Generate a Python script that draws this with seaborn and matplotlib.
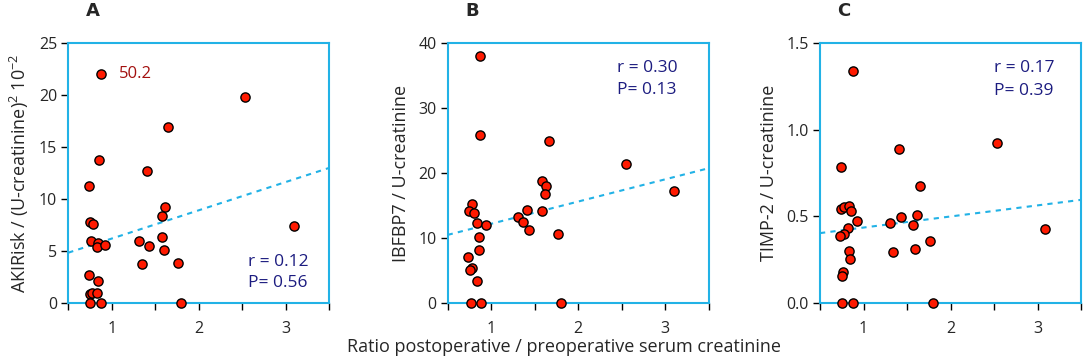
"""Three-panel scatter: urinary biomarkers vs. serum creatinine ratio."""
import matplotlib

matplotlib.use("Agg")
import matplotlib.pyplot as plt
import numpy as np
import pandas as pd
import seaborn as sns
from matplotlib.ticker import MultipleLocator

# ── data ────────────────────────────────────────────────────────────
ratio_a = [0.873, 2.535, 1.646, 0.858, 1.40, 0.735, 0.750, 0.789, 1.612, 1.573,
           3.092, 0.766, 0.843, 0.831, 0.923, 1.312, 1.431, 1.573, 1.600, 1.347,
           1.765, 0.735, 0.843, 0.754, 0.777, 0.835, 0.754, 0.873, 1.796]
akirisk = [22.0, 19.8, 16.9, 13.75, 12.75, 11.28, 7.8, 7.6, 9.2, 8.4,
           7.37, 6.02, 5.77, 5.41, 5.63, 6.02, 5.51, 6.4, 5.13, 3.78,
           3.88, 2.75, 2.14, 0.92, 0.99, 0.99, 0.0, 0.0, 0.0]

ratio_b = [0.874, 0.874, 1.660, 2.554, 3.105, 0.781, 0.746, 0.800, 0.842, 0.935,
           0.858, 0.858, 0.735, 0.777, 0.762, 0.842, 0.766, 0.885, 1.806, 1.313,
           1.360, 1.430, 1.413, 1.580, 1.584, 1.634, 1.618, 1.767]
igfbp7 = [38.0, 25.8, 25.0, 21.4, 17.2, 15.2, 14.2, 13.8, 12.4, 12.0,
          10.15, 8.2, 7.17, 5.38, 5.1, 3.43, 0.0, 0.0, 0.0, 13.2,
          12.5, 11.2, 14.4, 14.2, 18.8, 18.0, 16.8, 10.6]

ratio_c = [0.877, 2.531, 1.404, 0.738, 1.646, 0.742, 0.777, 0.838, 0.858, 0.919,
           0.823, 0.777, 0.731, 0.831, 0.846, 0.765, 0.750, 1.308, 1.427, 1.569,
           1.612, 1.338, 1.596, 1.758, 3.085, 0.754, 0.873, 1.796]
timp2 = [1.337, 0.923, 0.887, 0.783, 0.677, 0.542, 0.554, 0.563, 0.533, 0.475,
         0.436, 0.398, 0.385, 0.302, 0.255, 0.180, 0.157, 0.461, 0.498, 0.450,
         0.509, 0.294, 0.312, 0.361, 0.427, 0.0, 0.0, 0.0]

# regression lines as (intercept, slope), plus r / P from the figure
fit_a, fit_b, fit_c = (3.49, 2.72), (8.79, 3.42), (0.372, 0.064)
stats_a, stats_b, stats_c = ("0.12", "0.56"), ("0.30", "0.13"), ("0.17", "0.39")
outlier_label = "50.2"

# ── style ───────────────────────────────────────────────────────────
sns.set_style("ticks")
plt.rcParams["font.family"] = ["Open Sans", "DejaVu Sans"]
plt.rcParams["mathtext.fontset"] = "custom"
plt.rcParams["mathtext.rm"] = "Open Sans"

SPINE = "#22b2e6"
NAVY = "#1c1c80"
DARKRED = "#a3100f"

fig = plt.figure(figsize=(10.84, 3.63), dpi=100)
panels = [
    ("A", 0.0630, ratio_a, akirisk, fit_a, stats_a,
     "AKIRisk / (U-creatinine)$^2$ 10$^{-2}$", (0, 25), 5, "{:.0f}", (0.69, 0.158, 0.077)),
    ("B", 0.4130, ratio_b, igfbp7, fit_b, stats_b,
     "IBFBP7 / U-creatinine", (0, 40), 10, "{:.0f}", (0.648, 0.905, 0.82)),
    ("C", 0.7565, ratio_c, timp2, fit_c, stats_c,
     "TIMP-2 / U-creatinine", (0, 1.5), 0.5, "{:.1f}", (0.668, 0.905, 0.815)),
]

for letter, left, xs, ys, fit, stats, ylabel, ylim, ystep, yfmt, tpos in panels:
    ax = fig.add_axes([left, 0.165, 0.2408, 0.716])
    df = pd.DataFrame({"ratio": xs, "value": ys})
    ax.set_xlim(0.5, 3.5)
    ax.set_ylim(*ylim)

    # dashed regression line across the full x-range
    line_x = np.array(ax.get_xlim())
    ax.plot(line_x, fit[0] + fit[1] * line_x, color=SPINE, lw=1.5,
            dashes=(2.5, 2.5), zorder=2, clip_on=False)

    sns.scatterplot(data=df, x="ratio", y="value", ax=ax, color="#ff1a00",
                    edgecolor="black", linewidth=1.0, s=44, zorder=3, clip_on=False)

    ax.xaxis.set_major_locator(MultipleLocator(1))
    ax.xaxis.set_minor_locator(MultipleLocator(0.5))
    yt = np.arange(ylim[0], ylim[1] + ystep / 2, ystep)
    ax.set_yticks(yt)
    ax.set_yticklabels([yfmt.format(v) for v in yt])
    ax.tick_params(axis="both", which="both", direction="out", length=5,
                   width=1.0, color="black", labelsize=11.5, pad=3)
    ax.tick_params(axis="x", which="major", pad=8)
    for sp in ax.spines.values():
        sp.set_visible(True)
        sp.set_color(SPINE)
        sp.set_linewidth(1.5)

    ax.set_xlabel("")
    ax.set_ylabel(ylabel, fontsize=13, labelpad=6)

    ax.text(tpos[0], tpos[1], f"r = {stats[0]}", transform=ax.transAxes,
            color=NAVY, fontsize=12.5, ha="left", va="center")
    ax.text(tpos[0], tpos[2], f"P= {stats[1]}", transform=ax.transAxes,
            color=NAVY, fontsize=12.5, ha="left", va="center")

    ax.text(left + 0.016, 0.97, letter, transform=fig.transFigure,
            fontsize=13, fontweight="bold", ha="left", va="center",
            family=["DejaVu Sans"])

    if letter == "A":
        ax.text(1.08, 22.0, outlier_label, color=DARKRED, fontsize=12,
                ha="left", va="center")

fig.text(0.52, 0.045, "Ratio postoperative / preoperative serum creatinine",
         fontsize=13, ha="center", va="center")

fig.savefig("out.png", dpi=100)
